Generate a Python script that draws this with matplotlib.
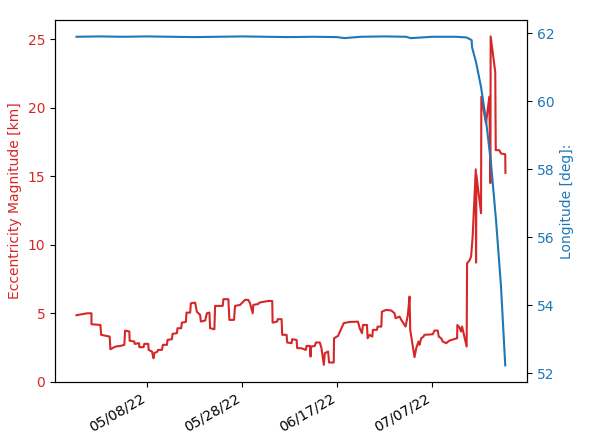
import numpy as np
import pandas as pd
import matplotlib
matplotlib.use("Agg")
import matplotlib.pyplot as plt
import matplotlib.dates as mdates

start = pd.Timestamp("2022-04-23")

# eccentricity (days since start, km)
ecc_days = [0.17, 2.41, 3.32, 3.32, 5.20, 5.35, 7.15, 7.30, 8.35, 9.40,
            10.24, 10.38, 11.29, 11.35, 12.34, 12.40, 13.32, 13.38, 14.29, 14.43,
            15.27, 15.34, 16.05, 16.38, 16.53, 17.22, 17.31, 18.15, 18.36, 19.20,
            19.32, 20.24, 20.37, 21.29, 21.42, 22.20, 22.34, 23.18, 23.31, 24.08,
            24.23, 25.13, 25.49, 26.18, 26.33, 27.23, 27.59, 28.13, 28.28, 29.18,
            29.33, 30.94, 31.07, 32.12, 32.33, 33.31, 33.52, 34.57, 35.62, 36.31,
            36.67, 37.24, 37.36, 38.41, 38.62, 40.51, 41.35, 41.43, 42.40, 42.48,
            43.32, 43.45, 44.37, 44.50, 45.42, 45.54, 46.47, 46.59, 47.51, 48.42,
            48.56, 49.26, 49.41, 49.53, 50.31, 50.52, 51.36, 51.71, 52.20, 52.41,
            53.10, 53.31, 54.29, 54.35, 55.19, 55.91, 56.39, 57.65, 59.39, 59.75,
            60.23, 60.44, 61.28, 61.42, 61.84, 62.41, 62.53, 63.37, 63.52, 64.30,
            64.42, 65.35, 66.40, 67.09, 67.30, 68.14, 68.49, 69.40, 69.88, 70.24,
            70.38, 71.28, 71.64, 72.12, 72.33, 72.69, 73.17, 73.38, 75.12, 75.48,
            76.17, 76.38, 76.88, 77.22, 77.94, 78.63, 80.24, 80.30, 80.72, 81.08,
            81.29, 81.77, 82.25, 82.34, 82.82, 83.18, 83.51, 84.17, 84.23, 84.30,
            85.28, 85.34, 86.32, 87.02, 87.25, 87.30, 88.27, 88.37, 89.11, 89.47,
            90.37, 90.41]
ecc_km = [4.86, 5.00, 5.00, 4.20, 4.15, 3.43, 3.30, 2.38, 2.57, 2.62,
          2.70, 3.74, 3.67, 3.00, 2.94, 2.77, 2.82, 2.53, 2.53, 2.77,
          2.77, 2.33, 2.21, 1.72, 2.09, 2.21, 2.33, 2.33, 2.70, 2.70,
          3.06, 3.11, 3.50, 3.55, 3.91, 3.91, 4.32, 4.37, 5.05, 5.05,
          5.73, 5.78, 5.12, 4.88, 4.40, 4.47, 5.00, 5.05, 3.91, 3.84,
          5.54, 5.54, 6.03, 6.03, 4.52, 4.52, 5.54, 5.61, 5.98, 5.98,
          5.74, 5.00, 5.61, 5.68, 5.78, 5.90, 5.90, 4.32, 4.40, 4.57,
          4.57, 3.43, 3.43, 2.87, 2.82, 3.11, 3.06, 2.46, 2.45, 2.33,
          2.62, 2.62, 1.84, 2.57, 2.62, 2.87, 2.87, 2.45, 1.24, 2.09,
          2.21, 1.41, 1.41, 3.18, 3.35, 3.91, 4.28, 4.37, 4.39, 3.91,
          3.55, 4.15, 4.15, 3.18, 3.43, 3.30, 3.79, 3.79, 4.03, 4.03,
          5.12, 5.25, 5.20, 5.00, 4.64, 4.76, 4.52, 4.03, 4.88, 6.22,
          3.79, 1.80, 2.45, 2.94, 2.70, 3.18, 3.30, 3.43, 3.47, 3.74,
          3.74, 3.30, 3.18, 2.94, 2.82, 3.01, 3.18, 4.15, 3.98, 3.67,
          4.03, 3.30, 2.57, 8.65, 8.84, 9.13, 10.59, 15.50, 8.70, 15.10,
          12.30, 20.80, 18.85, 20.80, 14.50, 25.20, 22.60, 16.90, 16.90, 16.66,
          16.60, 15.25]

# longitude (days since start, deg)
lon_days = [0.17, 5.0, 10.0, 15.0, 20.0, 25.0, 30.0, 35.0, 40.0, 45.0,
            50.0, 55.0, 56.5, 60.0, 65.0, 69.5, 70.5, 75.0, 80.0, 82.25,
            83.30, 83.39, 84.23, 85.28, 86.32, 87.37, 88.42, 89.47, 90.37]
lon_deg = [61.90, 61.91, 61.90, 61.91, 61.90, 61.89, 61.90, 61.91, 61.90, 61.89,
           61.90, 61.89, 61.86, 61.90, 61.91, 61.90, 61.86, 61.90, 61.90, 61.88,
           61.80, 61.59, 61.15, 60.42, 59.45, 58.18, 56.52, 54.57, 52.23]

tick_dates = ["2022-05-08", "2022-05-28", "2022-06-17", "2022-07-07"]

ecc_t = start + pd.to_timedelta(ecc_days, unit="D")
lon_t = start + pd.to_timedelta(lon_days, unit="D")

fig, ax1 = plt.subplots(figsize=(5.92, 4.44), dpi=100)

color = "tab:red"
ax1.set_ylabel("Eccentricity Magnitude [km]", color=color)
ax1.plot(ecc_t, ecc_km, color=color)
ax1.tick_params(axis="y", labelcolor=color)
ax1.set_ylim(bottom=0)

ax2 = ax1.twinx()
color = "tab:blue"
ax2.set_ylabel("Longitude [deg]:", color=color)
ax2.plot(lon_t, lon_deg, color=color)
ax2.tick_params(axis="y", labelcolor=color)

ax1.set_xticks(pd.to_datetime(tick_dates))
ax1.xaxis.set_major_formatter(mdates.DateFormatter("%m/%d/%y"))
fig.autofmt_xdate()

fig.subplots_adjust(left=0.093, right=0.890, top=0.955, bottom=0.140)
fig.savefig("out.png")
